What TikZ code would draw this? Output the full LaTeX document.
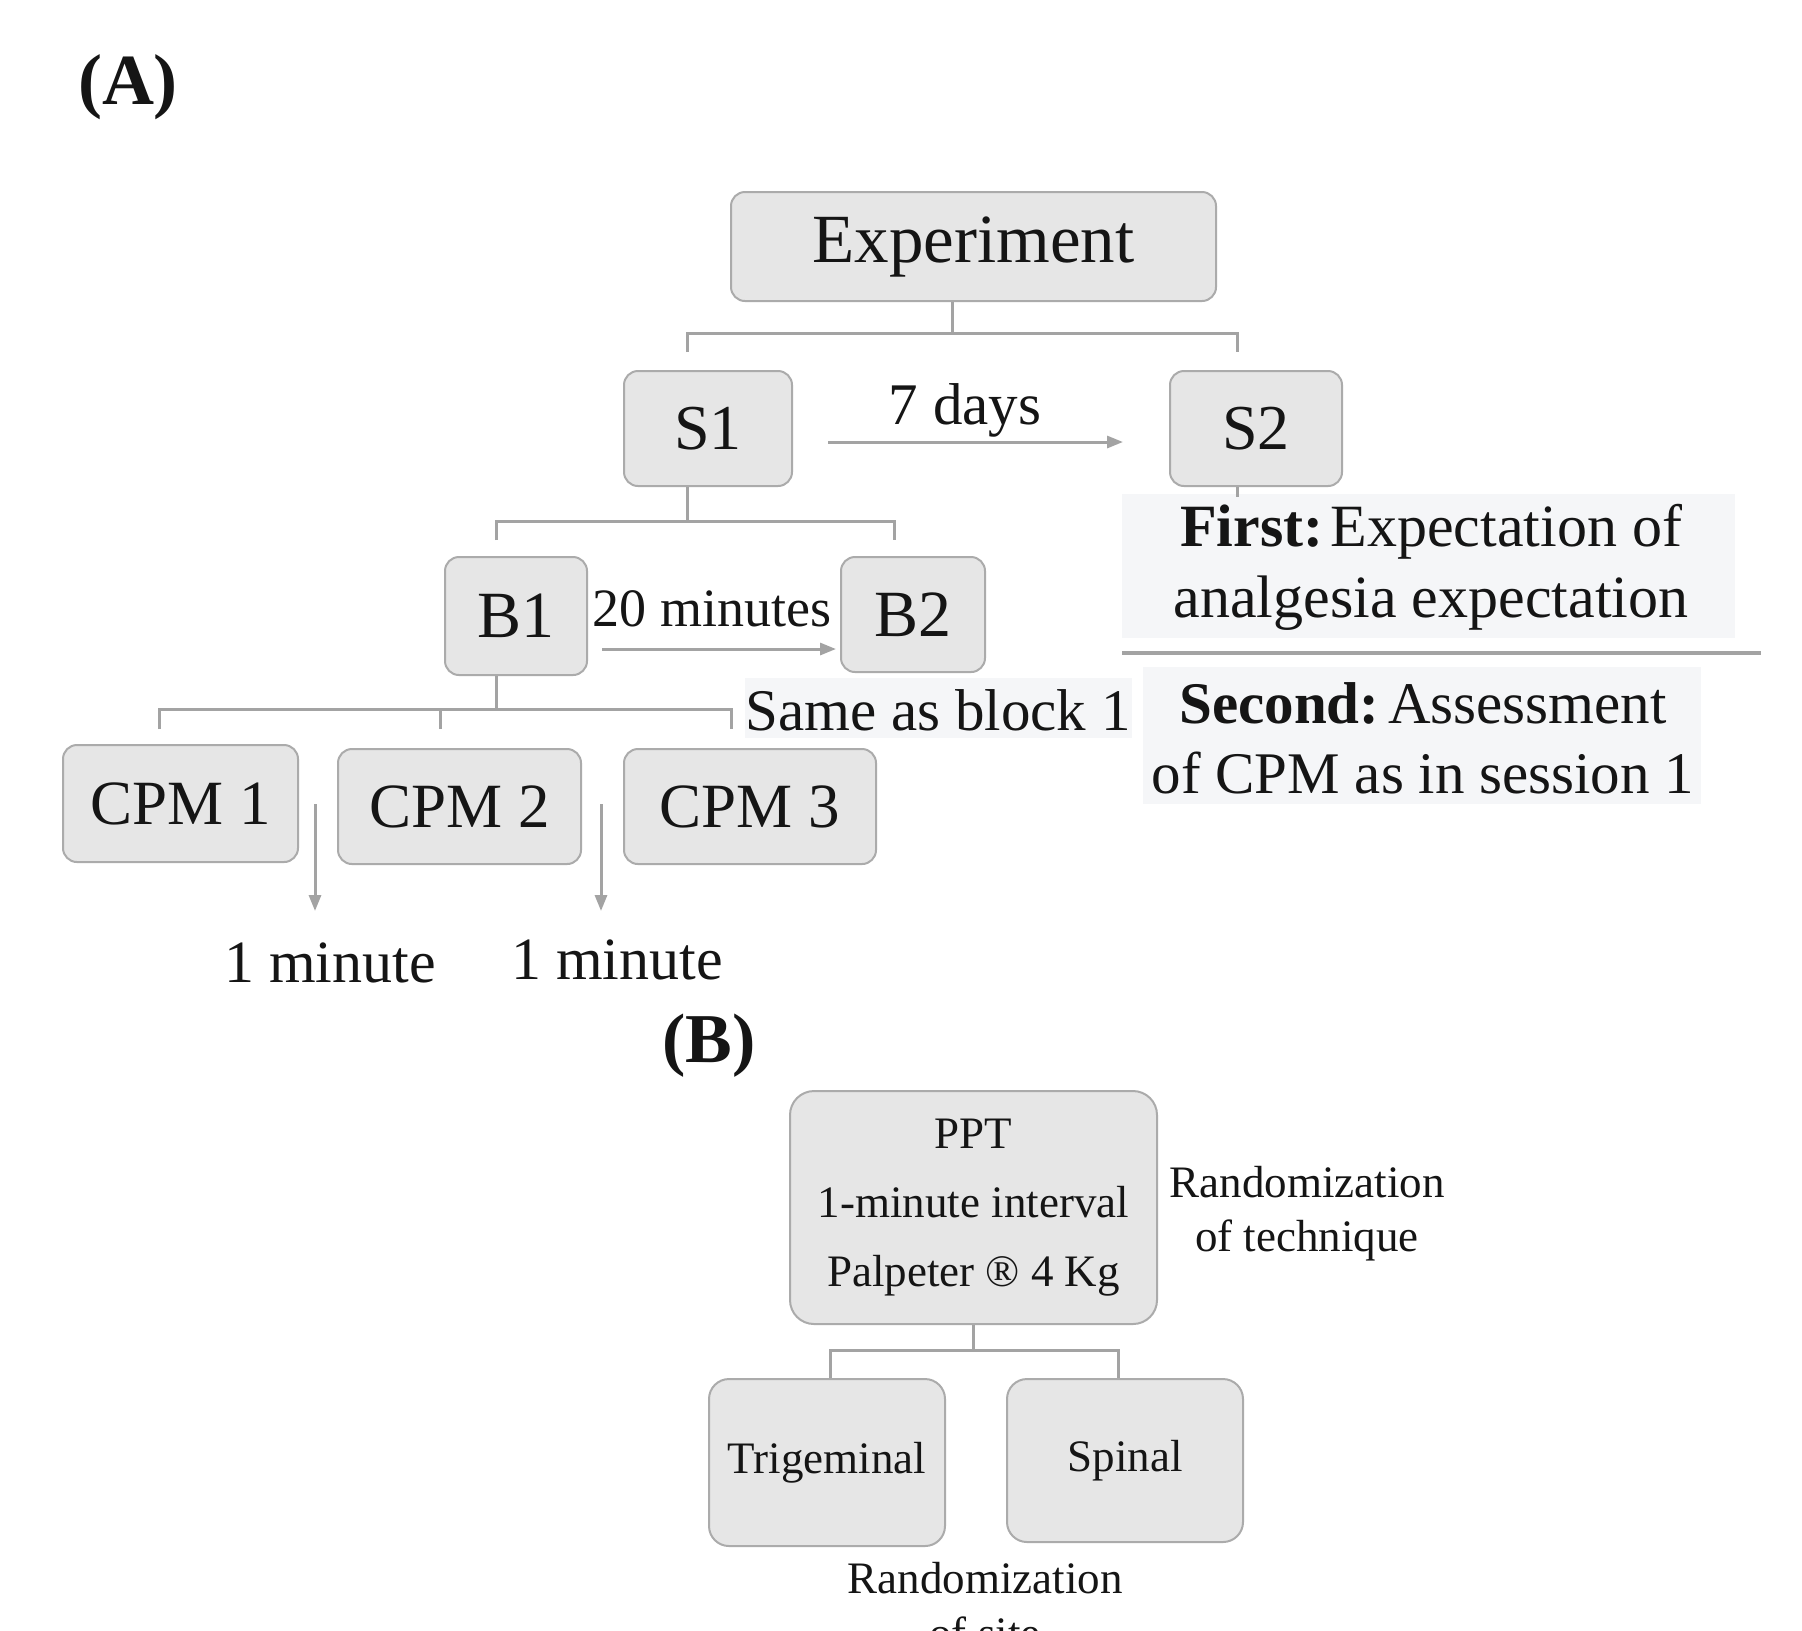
\documentclass[tikz,border=0pt]{standalone}
\usepackage{fontspec}
\setmainfont{Liberation Serif}
\usetikzlibrary{arrows.meta,calc}
\definecolor{boxfill}{HTML}{E6E6E6}
\definecolor{boxline}{HTML}{ABABAB}
\definecolor{conncol}{HTML}{A3A3A3}
\definecolor{txtbg}{HTML}{F5F6F8}
\definecolor{ink}{HTML}{151515}
\begin{document}
\begin{tikzpicture}[x=0.5pt,y=-0.5pt,
  box/.style={draw=boxline,line width=1pt,fill=boxfill,rounded corners=7pt,inner sep=0pt,text=ink},
  conn/.style={draw=conncol,line width=1.5pt},
  arr/.style={conn,-{Triangle[length=8pt,width=6pt]}},
  lbl/.style={text=ink,inner sep=0pt},
  bigf/.style={font=\fontsize{#1}{#1}\selectfont}
]
\useasboundingbox (0,0) rectangle (1802,1630);
\clip (0,0) rectangle (1802,1630);
\fill[white] (0,0) rectangle (1802,1630);

% text backgrounds
\fill[txtbg] (1122,494) rectangle (1735,638);
\fill[txtbg] (1143,667) rectangle (1701,804);
\fill[txtbg] (745,678) rectangle (1132,738);
\draw[conn,line width=2pt] (1122,653) -- (1761,653);

% panel labels
\node[lbl,font=\fontsize{36}{40}\selectfont\bfseries] (labA) at (128,87) {(A)};
\node[lbl,font=\fontsize{35}{40}\selectfont\bfseries] (labB) at (709,1046) {(B)};

% boxes panel A
\node[box,minimum width=242.5pt,minimum height=54.5pt,bigf=34.5] (exp) at (973.5,246.5) {Experiment};
\node[box,minimum width=84pt,minimum height=57.5pt,bigf=32] (s1) at (708,428.5) {S1};
\node[box,minimum width=86pt,minimum height=57.5pt,bigf=32] (s2) at (1256,428.5) {S2};
\node[box,minimum width=71pt,minimum height=59pt,bigf=33] (b1) at (516,616) {B1};
\node[box,minimum width=72pt,minimum height=57.5pt,bigf=33] (b2) at (913,614.5) {B2};
\node[box,minimum width=117.5pt,minimum height=58.5pt,bigf=31.5] (c1) at (180.5,803.5) {CPM 1};
\node[box,minimum width=121.5pt,minimum height=57.5pt,bigf=31.5] (c2) at (459.5,806.5) {CPM 2};
\node[box,minimum width=126pt,minimum height=57.5pt,bigf=31.5] (c3) at (750,806.5) {CPM 3};

% brackets panel A
\coordinate (ej) at (952,333);
\coordinate (s1t) at (687,352);
\coordinate (s2t) at (1237,352);
\draw[conn] (exp.south -| ej) -- (ej);
\draw[conn] (s1t) |- (s2t |- ej) -- (s2t);

\coordinate (sj) at (687,521);
\coordinate (b1t) at (496,540);
\coordinate (b2t) at (894,540);
\draw[conn] (s1.south -| sj) -- (sj);
\draw[conn] (b1t) |- (b2t |- sj) -- (b2t);

\coordinate (bj) at (496,709);
\coordinate (c1t) at (159,729);
\coordinate (c2t) at (440,729);
\coordinate (c3t) at (731,729);
\draw[conn] (b1.south -| bj) -- (bj);
\draw[conn] (c1t) |- (c3t |- bj) -- (c3t);
\draw[conn] (c2t) -- (c2t |- bj);

\draw[conn] (s2.south -| s2t) -- ++(0,10);

% arrows
\draw[arr] ($(s1.east)+(35,13.5)$) -- ($(s2.west)+(-46,13.5)$);
\draw[arr] ($(b1.east)+(14,33)$) -- ($(b2.west)+(-4,34.5)$);
\draw[arr] ($(c1.east)+(16,0.5)$) -- ++(0,107);
\draw[arr] ($(c2.east)+(19,-2.5)$) -- ++(0,107);

% labels panel A
\node[lbl,bigf=29.5] (days) at (965,410) {7 days};
\node[lbl,bigf=27] (min20) at (712,609) {20 minutes};
\node[lbl,bigf=29.5] (same) at (938,710) {Same as block 1};
\node[lbl,bigf=30] (m1) at (330,963) {1 minute};
\node[lbl,bigf=30] (m2) at (617,960) {1 minute};
\node[lbl,align=center,font=\fontsize{30}{35.5}\selectfont] (first) at (1431,567.5) {\textbf{First:}\hspace{0.12em}Expectation of\\analgesia expectation};
\node[lbl,align=center,font=\fontsize{29.5}{35}\selectfont] (second) at (1423,738) {\textbf{Second:}\hspace{0.15em}Assessment\\of CPM as in session 1};

% panel B
\node[box,rounded corners=12pt,minimum width=183.5pt,minimum height=116.5pt,align=center,font=\fontsize{22.5}{34.5}\selectfont] (ppt) at (973.5,1207.5) {PPT\\1-minute interval\\Palpeter ® 4 Kg};
\node[lbl,align=center,font=\fontsize{22.5}{27}\selectfont] (rtech) at (1307,1214) {Randomization\\of technique};
\node[box,rounded corners=10pt,minimum width=118pt,minimum height=83.5pt,font=\fontsize{22.5}{27}\selectfont] (trig) at (827,1462.5) {Trigeminal};
\node[box,rounded corners=10pt,minimum width=118pt,minimum height=81.5pt,font=\fontsize{22.5}{27}\selectfont] (spin) at (1125,1460.5) {\raisebox{3pt}{Spinal}};
\coordinate (pj) at (973,1350);
\draw[conn] (ppt.south -| pj) -- (pj);
\draw[conn] (trig.north -| 830,0) |- (pj) -| (spin.north -| 1118,0);
\node[lbl,anchor=base,font=\fontsize{22.5}{27}\selectfont] (rs1) at (985,1593) {Randomization};
\node[lbl,anchor=base,font=\fontsize{22.5}{27}\selectfont] (rs2) at (985,1648) {of site};
\end{tikzpicture}
\end{document}
